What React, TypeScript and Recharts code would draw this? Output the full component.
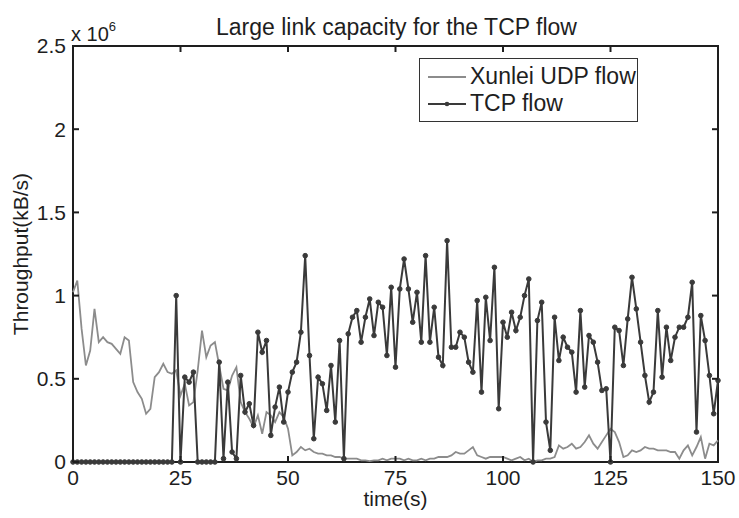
import React from 'react';
import { LineChart, Line, XAxis, YAxis, Legend } from 'recharts';

// throughput in units of 10^6 kB/s, one sample per second (t = 0..150)
const TCP_FLOW = [
  0, 0, 0, 0, 0, 0, 0, 0, 0, 0,
  0, 0, 0, 0, 0, 0, 0, 0, 0, 0,
  0, 0, 0, 0, 1.0, 0, 0.51, 0.48, 0.54, 0,
  0, 0, 0, 0, 0.6, 0.02, 0.48, 0.06, 0.02, 0.52,
  0.3, 0.35, 0.22, 0.78, 0.66, 0.73, 0.16, 0.33, 0.45, 0.24,
  0.42, 0.54, 0.6, 0.78, 1.24, 0.64, 0.14, 0.51, 0.47, 0.31,
  0.58, 0.24, 0.73, 0.02, 0.77, 0.87, 0.91, 0.72, 0.87, 0.98,
  0.76, 0.96, 0.93, 0.64, 1.05, 0.57, 1.04, 1.22, 1.04, 0.84,
  1.02, 0.72, 1.24, 0.72, 0.93, 0.63, 0.58, 1.33, 0.69, 0.69,
  0.78, 0.75, 0.6, 0.54, 0.97, 0.42, 0.99, 0.73, 1.17, 0.32,
  0.84, 0.75, 0.9, 0.79, 0.87, 1.0, 1.1, 0, 0.85, 0.96,
  0.24, 0.07, 0.87, 0.61, 0.75, 0.69, 0.66, 0.42, 0.91, 0.45,
  0.76, 0.72, 0.6, 0.43, 0.44, 0, 0.81, 0.79, 0.58, 0.86,
  1.11, 0.92, 0.72, 0.52, 0.36, 0.42, 0.91, 0.51, 0.81, 0.61,
  0.75, 0.81, 0.81, 0.87, 1.08, 0.18, 0.88, 0.73, 0.52, 0.29,
  0.49,
];

const UDP_FLOW = [
  1.02, 1.09, 0.8, 0.58, 0.67, 0.92, 0.72, 0.75, 0.72, 0.71,
  0.68, 0.65, 0.75, 0.73, 0.48, 0.42, 0.38, 0.29, 0.32, 0.51,
  0.54, 0.59, 0.54, 0.53, 0.55, 0.4, 0.47, 0.34, 0.36, 0.55,
  0.79, 0.63, 0.7, 0.72, 0.58, 0.44, 0.43, 0.52, 0.57, 0.36,
  0.3, 0.26, 0.21, 0.28, 0.17, 0.3, 0.28, 0.24, 0.3, 0.27,
  0.2, 0.04, 0.06, 0.09, 0.07, 0.08, 0.06, 0.05, 0.05, 0.04,
  0.04, 0.03, 0.03, 0.02, 0.02, 0.02, 0.02, 0.01, 0.01, 0.005,
  0.01, 0.01, 0.02, 0.01, 0.02, 0.02, 0.02, 0.01, 0.02, 0.01,
  0.01, 0.02, 0.01, 0.02, 0.02, 0.03, 0.03, 0.03, 0.04, 0.06,
  0.05, 0.05, 0.07, 0.09, 0.04, 0.03, 0.02, 0.03, 0.03, 0.03,
  0.03, 0.02, 0.01, 0.02, 0.03, 0.01, 0.02, 0, 0.01, 0.01,
  0.02, 0.02, 0.03, 0.1, 0.08, 0.09, 0.11, 0.08, 0.09, 0.12,
  0.16, 0.11, 0.08, 0.12, 0.16, 0.2, 0.18, 0.12, 0.03, 0.04,
  0.07, 0.06, 0.07, 0.09, 0.08, 0.08, 0.07, 0.07, 0.07, 0.06,
  0.06, 0.02, 0.07, 0.1, 0.04, 0.09, 0.15, 0.02, 0.11, 0.1,
  0.13,
];

const X_TICKS = [0, 25, 50, 75, 100, 125, 150];
const Y_TICKS = [0, 0.5e6, 1e6, 1.5e6, 2e6, 2.5e6];

const data = TCP_FLOW.map((v, i) => ({
  t: i,
  tcp: v * 1e6,
  udp: UDP_FLOW[i] * 1e6,
}));

const FONT = '"Liberation Sans", Arial, sans-serif';
const AXIS = '#1e1e1e';
const TCP_COLOR = '#3a3a3a';
const UDP_COLOR = '#8c8c8c';
const TICK_LEN = 6;

const textStyle = { fill: AXIS, fontSize: 21, fontFamily: FONT };
const tickPath = (x1: number, y1: number, x2: number, y2: number) => `M${x1},${y1}L${x2},${y2}`;

// matlab style: tick marks point into the plot box
const BottomTick = (p: any) => (
  <g>
    <path d={tickPath(p.x, p.y, p.x, p.y - TICK_LEN)} stroke={AXIS} strokeWidth={2} fill="none" />
    <text x={p.x} y={p.y + 8} dy="0.71em" textAnchor="middle" style={textStyle}>{p.payload.value}</text>
  </g>
);
const LeftTick = (p: any) => (
  <g>
    <path d={tickPath(p.x, p.y, p.x + TICK_LEN, p.y)} stroke={AXIS} strokeWidth={2} fill="none" />
    <text x={p.x - 7} y={p.y} dy="0.355em" textAnchor="end" style={textStyle}>{String(p.payload.value / 1e6)}</text>
  </g>
);
const TopTick = (p: any) => <path d={tickPath(p.x, p.y, p.x, p.y + TICK_LEN)} stroke={AXIS} strokeWidth={2} fill="none" />;
const RightTick = (p: any) => <path d={tickPath(p.x, p.y, p.x - TICK_LEN, p.y)} stroke={AXIS} strokeWidth={2} fill="none" />;

function LegendBox() {
  return (
    <div style={{ border: '1px solid #333', background: '#fff', width: 219, height: 64, fontFamily: FONT, fontSize: 23, color: AXIS, boxSizing: 'border-box', paddingTop: 4 }}>
      <div style={{ display: 'flex', alignItems: 'center', height: 27 }}>
        <svg width={44} height={10} style={{ marginLeft: 6 }}>
          <line x1={2} y1={5} x2={40} y2={5} stroke={UDP_COLOR} strokeWidth={1.8} />
        </svg>
        <span>Xunlei UDP flow</span>
      </div>
      <div style={{ display: 'flex', alignItems: 'center', height: 27 }}>
        <svg width={44} height={10} style={{ marginLeft: 6 }}>
          <line x1={2} y1={5} x2={40} y2={5} stroke={TCP_COLOR} strokeWidth={2} />
          <circle cx={21} cy={5} r={2.3} fill={TCP_COLOR} />
        </svg>
        <span>TCP flow</span>
      </div>
    </div>
  );
}

export default function App() {
  return (
    <div style={{ position: 'absolute', left: 0, top: 0, width: 739, height: 518, background: '#fff' }}>
      <div style={{ position: 'absolute', left: 0, width: 739, top: 14, textAlign: 'center', paddingLeft: 54, boxSizing: 'border-box', fontFamily: FONT, fontSize: 23, color: AXIS }}>
        Large link capacity for the TCP flow
      </div>
      <div style={{ position: 'absolute', left: 71, top: 21, fontFamily: FONT, fontSize: 20, color: AXIS }}>
        x 10<sup style={{ fontSize: 13, position: 'relative', top: -2 }}>6</sup>
      </div>
      {/* plot box frame */}
      <div style={{ position: 'absolute', left: 72, top: 45, width: 647, height: 418, border: `2px solid ${AXIS}`, boxSizing: 'border-box' }} />
      <div style={{ position: 'absolute', left: 0, top: 0 }}>
        <LineChart width={739} height={518} data={data} margin={{ top: 45, right: 20, bottom: 0, left: 0 }}>
          <XAxis
            dataKey="t"
            type="number"
            domain={[0, 150]}
            ticks={X_TICKS}
            axisLine={false}
            tickLine={false}
            tickSize={0}
            tickMargin={0}
            tick={BottomTick}
            height={56}
            interval={0}
            label={{ value: 'time(s)', position: 'insideBottom', offset: 12, style: textStyle }}
          />
          <XAxis xAxisId="top" orientation="top" dataKey="t" type="number" domain={[0, 150]} ticks={X_TICKS} axisLine={false} tickLine={false} tickSize={0} tickMargin={0} tick={TopTick} height={1} interval={0} />
          <YAxis
            type="number"
            domain={[0, 2.5e6]}
            ticks={Y_TICKS}
            axisLine={false}
            tickLine={false}
            tickSize={0}
            tickMargin={0}
            tick={LeftTick}
            width={73}
            interval={0}
            label={{ value: 'Throughput(kB/s)', angle: -90, position: 'insideLeft', offset: 21, style: { ...textStyle, textAnchor: 'middle' } }}
          />
          <YAxis yAxisId="right" orientation="right" type="number" domain={[0, 2.5e6]} ticks={Y_TICKS} axisLine={false} tickLine={false} tickSize={0} tickMargin={0} tick={RightTick} width={1} interval={0} />
          <Legend
            layout="vertical"
            align="center"
            verticalAlign="middle"
            wrapperStyle={{ top: 58, left: 419, width: 219 }}
            content={() => <LegendBox />}
          />
          <Line xAxisId="top" yAxisId="right" type="linear" dataKey="udp" name="Xunlei UDP flow" stroke={UDP_COLOR} strokeWidth={1.8} dot={false} isAnimationActive={false} />
          <Line type="linear" dataKey="tcp" name="TCP flow" stroke={TCP_COLOR} strokeWidth={2} dot={{ r: 2.3, fill: TCP_COLOR, stroke: TCP_COLOR, strokeWidth: 1 }} isAnimationActive={false} />
        </LineChart>
      </div>
    </div>
  );
}
